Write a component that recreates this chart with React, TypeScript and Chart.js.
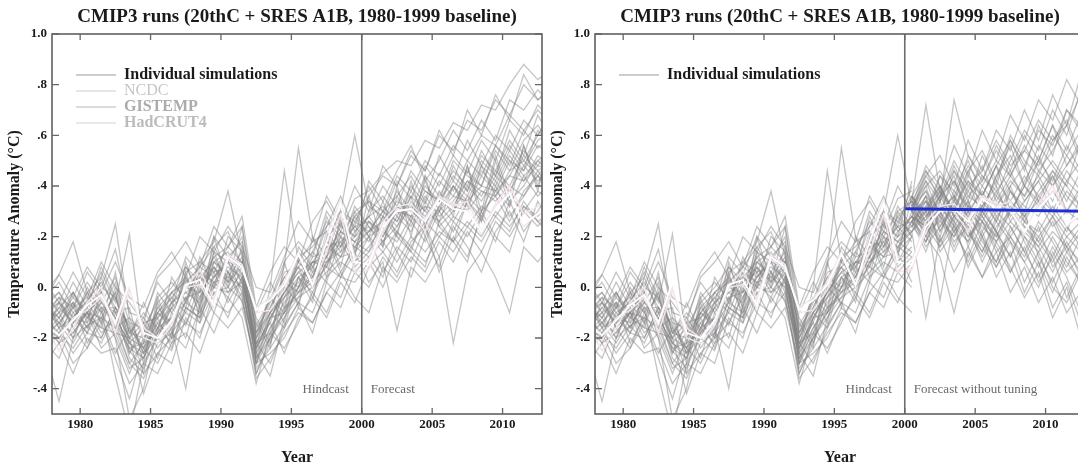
import React, { useEffect, useRef } from "react";
import { Chart, registerables } from "chart.js";
Chart.register(...registerables);

const FONT = '"Liberation Serif", "Times New Roman", serif';

// ---------- data ----------
const years = [
  1977, 1978, 1979, 1980, 1981, 1982, 1983, 1984, 1985, 1986, 1987, 1988, 1989,
  1990, 1991, 1992, 1993, 1994, 1995, 1996, 1997, 1998, 1999, 2000, 2001, 2002,
  2003, 2004, 2005, 2006, 2007, 2008, 2009, 2010, 2011, 2012, 2013,
];
const forecastYears = [2000, 2001, 2002, 2003, 2004, 2005, 2006, 2007, 2008, 2009, 2010, 2011, 2012, 2013];

// CMIP3 individual simulations (20thC + A1B), anomaly vs 1980-1999
const simA = [-0.08,-0.02,-0.12,-0.05,0.02, -0.08,-0.15,-0.26,-0.10,-0.04, 0.03,-0.05,0.10,0.14,0.05, -0.22,-0.18,0.00,0.08,0.02, 0.20,0.25,0.15,0.30,0.36, 0.28,0.40,0.33,0.45,0.38, 0.50,0.44,0.56,0.48,0.62, 0.55,0.60];
const simB = [-0.20,-0.18,-0.24,-0.15,-0.12, -0.16,-0.30,-0.36,-0.22,-0.18, -0.10,-0.14,-0.02,0.00,-0.05, -0.32,-0.24,-0.15,-0.06,-0.10, 0.04,0.10,0.06,0.12,0.18, 0.10,0.20,0.14,0.22,0.18, 0.26,0.20,0.30,0.24,0.32, 0.28,0.35];
const simC = [-0.05,0.05,-0.04,0.08,0.00, 0.15,-0.10,-0.12,0.02,-0.06, 0.12,0.05,0.20,0.12,0.18, -0.15,-0.05,0.10,0.18,0.12, 0.30,0.22,0.35,0.38,0.45, 0.50,0.48,0.58,0.55,0.65, 0.62,0.72,0.70,0.80,0.88, 0.82,0.86];
const simD = [-0.15,-0.22,-0.10,-0.18,-0.08, -0.35,-0.58,-0.30,-0.20,-0.25, -0.08,-0.12,0.02,-0.04,0.08, -0.28,-0.20,-0.10,0.04,-0.02, 0.10,0.16,0.24,0.18,0.28, 0.22,0.34,0.26,0.30,0.40, 0.32,0.44,0.38,0.50,0.42, 0.52,0.48];
const simE = [-0.25,-0.45,-0.20,-0.15,-0.22, -0.10,-0.25,-0.32,-0.18,-0.08, -0.15,0.02,0.08,0.00,0.10, -0.30,-0.12,-0.02,0.06,0.10, 0.08,0.22,0.18,0.26,0.20, 0.30,0.24,0.36,0.28,0.34, 0.42,0.36,0.46,0.40,0.52, 0.46,0.50];
const simF = [-0.02,0.05,0.18,-0.02,0.04, 0.25,-0.12,-0.18,-0.04,0.02, -0.05,0.08,0.04,0.12,0.02, -0.20,-0.10,-0.04,0.10,0.04, 0.16,0.12,0.26,0.22,0.30, 0.26,0.38,0.30,0.42,0.36, 0.46,0.40,0.54,0.46,0.58, 0.64,0.56];
const simG = [-0.10,-0.06,-0.14,0.00,-0.10, 0.02,-0.18,-0.10,-0.16,-0.02, 0.04,-0.08,0.14,0.10,0.20, -0.18,-0.06,0.08,0.55,0.20, 0.12,0.30,0.60,0.32,0.28, 0.42,0.35,0.48,0.40,0.52, 0.45,0.58,0.50,0.66,0.60, 0.72,0.66];
const simH = [-0.14,-0.08,-0.02,-0.12,0.00, -0.04,-0.16,-0.24,-0.08,-0.14, 0.06,0.10,0.18,0.38,0.12, -0.24,0.00,0.46,0.10,0.18, 0.22,0.14,0.28,0.34,0.26, 0.38,0.30,0.44,0.36,0.46, 0.40,0.52,0.46,0.58,0.50, 0.60,0.68];
const simI = [-0.18,-0.12,-0.20,-0.06,-0.14, -0.02,-0.26,-0.14,-0.24,-0.16, -0.40,-0.06,0.00,0.06,-0.04, -0.34,-0.22,-0.08,-0.04,0.08, 0.02,0.20,0.10,0.16,0.24, 0.14,0.26,0.18,0.30,0.22, 0.34,0.28,0.38,0.32,0.44, 0.36,0.42];
const simJ = [-0.06,-0.14,-0.08,-0.16,-0.04, -0.12,-0.22,-0.28,-0.12,-0.06, 0.00,0.04,0.10,0.04,0.12, -0.26,-0.35,-0.12,0.00,0.04, 0.18,0.12,0.22,0.28,0.20, 0.32,0.26,0.38,0.34,0.42, 0.36,0.48,0.42,0.54,0.46, 0.56,0.52];
const simK = [-0.12,-0.06,-0.16,-0.10,-0.02, -0.20,-0.52,-0.40,-0.16,-0.12, -0.04,-0.02,0.04,0.10,0.02, -0.30,-0.16,-0.06,0.00,0.10, 0.12,0.20,0.16,0.22,0.30, 0.24,0.32,0.28,0.36,0.30, 0.40,0.34,0.44,0.38,0.48, 0.42,0.46];
const simL = [-0.16,-0.20,-0.12,-0.14,-0.08, -0.14,-0.24,-0.22,-0.18,-0.12, -0.06,-0.10,0.02,0.04,0.00, -0.28,-0.18,-0.10,-0.02,0.02, 0.08,0.04,0.14,0.02,0.10, -0.17,0.08,0.02,0.12,-0.22, 0.06,0.14,0.04,-0.10,0.16, 0.10,0.18];
const simM = [-0.22,-0.16,-0.26,-0.18,-0.20, -0.08,-0.28,-0.34,-0.26,-0.20, -0.14,-0.18,-0.06,-0.10,-0.02, -0.36,-0.28,-0.18,-0.10,-0.14, -0.02,0.06,-0.04,-0.10,0.08, 0.02,0.12,0.06,0.18,0.10, 0.22,0.14,0.26,0.20,0.30, 0.24,0.32];
const simN = [-0.10,-0.04,-0.08,0.02,-0.06, 0.04,-0.14,-0.16,-0.06,0.00, 0.08,0.02,0.12,0.16,0.10, -0.16,-0.08,0.04,0.12,0.16, 0.24,0.30,0.26,0.36,0.44, 0.40,0.52,0.46,0.60,0.54, 0.66,0.62,0.74,0.68,0.80, 0.74,0.78];
const simO = [-0.14,-0.10,-0.06,-0.12,-0.06, -0.10,-0.20,-0.24,-0.14,-0.08, -0.02,0.02,0.06,0.08,0.04, -0.24,-0.12,-0.04,0.04,0.08, 0.16,0.18,0.24,0.26,0.22, 0.30,0.28,0.32,0.30,0.36, 0.34,0.40,0.38,0.44,0.42, 0.48,0.46];
const simP = [-0.08,-0.12,-0.04,-0.10,-0.12, -0.02,-0.18,-0.20,-0.10,-0.14, 0.04,-0.04,0.08,0.02,0.08, -0.22,-0.10,-0.02,0.06,0.00, 0.12,0.24,0.20,0.28,0.32, 0.26,0.36,0.30,0.26,0.40, 0.34,0.46,0.40,0.52,0.44, 0.50,0.54];
const simQ = [-0.18,-0.14,-0.18,-0.10,-0.04, -0.12,-0.26,-0.18,-0.10,-0.16, -0.06,0.06,0.02,0.10,0.08, -0.26,-0.16,-0.08,-0.02,0.10, 0.10,0.14,0.20,0.24,0.18, 0.28,0.22,0.34,0.26,0.32, 0.30,0.38,0.34,0.40,0.36, 0.44,0.40];
const simR = [-0.04,-0.16,-0.02,-0.14,0.04, -0.10,-0.08,-0.30,-0.04,-0.18, 0.10,-0.08,0.14,0.00,0.16, -0.20,-0.04,-0.14,0.12,0.00, 0.22,0.08,0.30,0.20,0.34, 0.20,0.42,0.24,0.38,0.28, 0.48,0.30,0.52,0.36,0.56, 0.40,0.58];
const simS = [-0.12,-0.18,-0.08,-0.04,-0.10, -0.04,-0.22,-0.26,-0.20,-0.06, -0.02,-0.06,0.10,0.06,0.00, -0.28,-0.12,-0.10,0.00,0.12, 0.14,0.22,0.18,0.22,0.26, 0.34,0.30,0.26,0.36,0.32, 0.42,0.38,0.36,0.46,0.50, 0.44,0.52];
const simT = [-0.16,-0.08,-0.14,-0.02,-0.08, -0.08,-0.20,-0.14,-0.12,-0.04, -0.10,0.04,0.00,0.12,0.10, -0.22,-0.14,0.02,-0.02,0.04, 0.18,0.16,0.28,0.20,0.24, 0.32,0.28,0.40,0.34,0.44, 0.38,0.50,0.44,0.56,0.48, 0.58,0.62];
const simU = [-0.06,-0.02,-0.10,-0.06,0.06, -0.06,0.21,-0.22,-0.08,-0.02, 0.02,0.08,0.16,0.06,0.14, -0.18,-0.10,0.06,0.08,0.14, 0.26,0.20,0.30,0.34,0.30, 0.44,0.38,0.50,0.44,0.56, 0.50,0.60,0.56,0.68,0.62, 0.70,0.64];
const simV = [-0.20,-0.14,-0.22,-0.12,-0.16, -0.18,-0.32,-0.28,-0.16,-0.22, -0.08,-0.12,0.00,-0.02,0.02, -0.34,-0.20,-0.12,-0.04,0.00, 0.06,0.12,0.14,0.20,0.14, 0.22,0.16,0.26,0.20,0.28, 0.24,0.32,0.28,0.36,0.30, 0.38,0.34];
const simW = [-0.30,-0.22,-0.34,-0.20,-0.26, -0.24,-0.38,-0.30,-0.34,-0.22, -0.18,-0.26,-0.10,-0.16,-0.08, -0.30,-0.26,-0.20,-0.08,-0.14, -0.02,-0.08,0.06,0.00,0.12, 0.04,0.16,0.10,0.20,0.14, 0.24,0.18,0.28,0.22,0.34, 0.26,0.30];
const simX = [0.02,-0.06,0.06,-0.04,0.10, 0.00,-0.06,-0.14,0.04,0.10, 0.18,0.08,0.24,0.16,0.28, -0.08,0.06,0.16,0.10,0.26, 0.34,0.24,0.40,0.30,0.48, 0.40,0.54,0.46,0.62,0.52, 0.70,0.60,0.76,0.66,0.84, 0.74,0.80];
const simY = [-0.10,-0.20,-0.06,-0.22,-0.12, -0.26,-0.16,-0.34,-0.06,-0.20, 0.06,-0.12,0.20,0.02,0.24, -0.14,-0.24,0.10,-0.08,0.20, 0.04,0.28,0.12,0.36,0.16, 0.40,0.20,0.44,0.24,0.30, 0.48,0.26,0.50,0.32,0.56, 0.38,0.60];
const simZ = [-0.16,-0.10,-0.20,-0.08,-0.18, -0.12,-0.22,-0.16,-0.28,-0.10, -0.20,0.00,-0.10,0.06,-0.06, -0.22,-0.30,-0.16,-0.06,-0.18, 0.02,-0.04,0.10,0.20,0.06, 0.16,0.10,0.24,0.06,0.20, 0.12,0.28,0.18,0.34,0.22, 0.30,0.40];
const simAA = [-0.22,-0.28,-0.14,-0.10,-0.24, -0.18,-0.20,-0.42,-0.26,-0.30, -0.12,-0.20,-0.02,-0.12,0.04, -0.24,-0.14,-0.26,-0.12,-0.04, -0.12,0.02,-0.06,0.08,0.14, 0.06,0.18,0.24,0.12,0.26, 0.20,0.30,0.36,0.26,0.38, 0.44,0.36];
const simBB = [-0.04,0.02,-0.08,0.06,-0.02, 0.10,-0.04,-0.08,0.06,0.14, 0.04,0.20,0.14,0.24,0.16, 0.00,-0.02,0.12,0.26,0.18, 0.36,0.26,0.20,0.42,0.34, 0.46,0.56,0.42,0.50,0.62, 0.54,0.66,0.58,0.74,0.70, 0.78,0.72];
const simCC = [-0.12,-0.04,-0.16,-0.24,-0.10, -0.20,-0.34,-0.20,-0.12,-0.24, -0.04,-0.14,0.06,-0.06,0.04, -0.26,-0.10,-0.16,0.04,-0.06, 0.20,0.06,0.16,0.12,0.04, 0.22,0.14,0.08,0.26,0.18, 0.10,0.30,0.20,0.14,0.32, 0.26,0.20];
const simDD = [-0.08,-0.16,-0.12,-0.02,-0.14, 0.06,-0.24,-0.28,-0.10,-0.02, -0.08,0.12,0.00,0.20,0.14, -0.18,-0.04,-0.10,0.14,0.06, 0.28,0.16,0.32,0.24,0.16, 0.36,0.26,0.42,0.30,0.48, 0.38,0.54,0.44,0.62,0.52, 0.68,0.58];
const simEE = [-0.26,-0.18,-0.30,-0.24,-0.14, -0.28,-0.44,-0.24,-0.30,-0.18, -0.24,-0.08,-0.18,-0.04,-0.12, -0.38,-0.18,-0.24,-0.14,-0.02, -0.10,0.04,0.02,0.10,0.00, 0.14,0.04,0.20,0.08,0.24, 0.16,0.06,0.22,0.30,0.18, 0.34,0.24];
const simFF = [-0.02,-0.10,0.02,-0.08,0.08, -0.04,-0.20,-0.06,-0.18,0.04, -0.06,0.10,0.06,0.16,0.24, -0.10,0.02,-0.08,0.16,0.08, 0.24,0.36,0.22,0.28,0.40, 0.32,0.46,0.38,0.34,0.50, 0.44,0.40,0.56,0.50,0.46, 0.62,0.56];
const simGG = [-0.14,-0.22,-0.18,-0.10,-0.20, -0.08,-0.14,-0.24,-0.16,-0.06, -0.14,-0.04,0.08,-0.02,0.06, -0.30,-0.20,0.00,-0.06,0.06, 0.12,0.04,0.18,0.14,0.22, 0.18,0.28,0.22,0.32,0.26, 0.36,0.30,0.42,0.34,0.40, 0.50,0.44];
const simHH = [-0.10,-0.14,-0.06,-0.16,-0.06, -0.14,-0.30,-0.22,-0.02,-0.10, 0.00,-0.02,0.12,0.02,0.10, -0.20,-0.08,0.04,0.00,0.14, 0.08,0.26,0.14,0.26,0.18, 0.24,0.36,0.20,0.32,0.40, 0.30,0.48,0.36,0.44,0.54, 0.48,0.56];
const simII = [-0.18,-0.06,-0.12,-0.18,-0.02, -0.16,-0.12,-0.26,-0.14,-0.20, 0.02,-0.10,0.04,0.10,-0.02, -0.24,-0.12,-0.02,0.08,-0.04, 0.10,0.18,0.08,0.14,0.28, 0.20,0.14,0.32,0.24,0.18, 0.34,0.26,0.40,0.28,0.36, 0.46,0.38];
const simJJ = [-0.06,-0.12,-0.02,-0.10,-0.16, 0.00,-0.18,-0.12,-0.20,-0.08, 0.08,-0.02,0.16,0.22,0.08, -0.12,-0.22,-0.04,0.02,0.10, 0.18,0.30,0.24,0.40,0.30, 0.36,0.44,0.34,0.52,0.42, 0.58,0.48,0.60,0.54,0.66, 0.60,0.70];

const simulations = [
  simA, simB, simC, simD, simE, simF, simG, simH, simI, simJ, simK, simL, simM, simN, simO, simP, simQ, simR,
  simS, simT, simU, simV, simW, simX, simY, simZ, simAA, simBB, simCC, simDD, simEE, simFF, simGG, simHH, simII, simJJ,
];

// "forecast without tuning" runs (right panel), 2000-2013
const fc01 = [0.30,0.42,0.28,0.46,0.34, 0.52,0.40,0.58,0.48,0.62, 0.56,0.70,0.64,0.72];
const fc02 = [0.26,0.14,0.30,0.18,0.24, 0.10,0.22,0.06,0.16,0.02, 0.12,-0.04,0.08,-0.02];
const fc03 = [0.34,0.72,0.38,0.56,0.44, 0.62,0.50,0.68,0.58,0.74, 0.66,0.82,0.72,0.80];
const fc04 = [0.22,0.30,-0.05,0.26,0.08, 0.20,0.04,0.14,-0.02,0.10, -0.08,0.02,-0.14,-0.06];
const fc05 = [0.32,0.24,0.40,0.30,0.44, 0.36,0.48,0.38,0.30,0.46, 0.40,0.52,0.44,0.56];
const fc06 = [0.28,0.36,0.22,0.32,0.20, 0.28,0.18,0.30,0.22,0.16, 0.26,0.14,0.22,0.12];
const fc07 = [0.36,0.26,0.44,0.34,0.52, 0.42,0.56,0.46,0.60,0.50, 0.64,0.54,0.68,0.60];
const fc08 = [0.24,0.18,0.28,0.14,0.26, 0.16,0.08,0.20,0.10,0.00, 0.14,0.04,-0.10,0.02];
const fc09 = [0.30,0.46,0.34,0.74,0.52, 0.44,0.36,0.50,0.62,0.54, 0.70,0.60,0.78,0.86];
const fc10 = [0.26,0.20,0.32,0.24,0.18, 0.30,0.22,0.12,0.24,0.16, 0.06,0.18,0.08,0.00];
const fc11 = [0.32,0.38,0.30,0.36,0.28, 0.40,0.32,0.42,0.36,0.44, 0.34,0.46,0.38,0.48];
const fc12 = [0.28,0.22,0.26,0.20,0.30, 0.24,0.18,0.26,0.20,0.14, 0.22,0.16,0.24,0.18];
const fc13 = [0.34,0.44,0.36,0.50,0.40, 0.46,0.58,0.48,0.54,0.66, 0.58,0.64,0.76,0.68];
const fc14 = [0.22,-0.12,0.20,0.06,0.16, 0.04,0.14,-0.02,0.08,-0.06, 0.04,-0.10,-0.02,-0.18];
const fc15 = [0.30,0.34,0.26,0.38,0.32, 0.26,0.36,0.30,0.40,0.34, 0.28,0.38,0.32,0.36];
const fc16 = [0.36,0.30,0.40,0.28,0.36, 0.32,0.42,0.34,0.28,0.38, 0.46,0.36,0.30,0.42];
const fc17 = [0.26,0.32,0.18,0.28,0.22, 0.14,0.26,0.18,0.10,0.20, 0.12,0.24,0.16,0.08];
const fc18 = [0.32,0.48,0.40,0.30,0.46, 0.54,0.42,0.60,0.50,0.44, 0.58,0.66,0.52,0.62];
const fc19 = [0.28,0.16,0.24,0.34,0.22, 0.12,0.24,0.30,0.18,0.08, 0.20,0.10,0.02,0.12];
const fc20 = [0.30,0.26,0.36,0.42,0.30, 0.38,0.28,0.34,0.44,0.36, 0.30,0.42,0.50,0.40];
const fc21 = [0.24,0.34,0.28,0.20,0.32, 0.26,0.20,0.32,0.26,0.22, 0.32,0.24,0.18,0.28];
const fc22 = [0.34,0.22,0.36,0.46,0.38, 0.30,0.44,0.52,0.40,0.56, 0.48,0.40,0.58,0.50];
const fc23 = [0.26,0.36,0.14,0.22,0.30, 0.18,0.10,0.22,0.30,0.12, 0.02,0.14,0.06,-0.04];
const fc24 = [0.30,0.20,0.32,0.26,0.40, 0.34,0.26,0.38,0.32,0.28, 0.38,0.30,0.26,0.34];
const fc25 = [0.32,0.40,0.46,0.36,0.48, 0.40,0.50,0.44,0.54,0.48, 0.60,0.52,0.62,0.56];
const fc26 = [0.28,0.24,0.16,0.28,0.20, 0.26,0.14,0.20,0.28,0.18, 0.10,0.20,0.14,0.06];
const fc27 = [0.36,0.28,0.34,0.44,0.26, 0.36,0.48,0.30,0.40,0.32, 0.44,0.34,0.46,0.38];
const fc28 = [0.24,0.30,0.38,0.24,0.34, 0.20,0.30,0.24,0.14,0.26, 0.18,0.08,0.20,0.14];
const fc29 = [0.30,0.38,0.24,0.32,0.42, 0.28,0.38,0.46,0.34,0.42, 0.50,0.42,0.36,0.48];
const fc30 = [0.26,0.18,0.30,0.36,0.16, 0.30,0.22,0.12,0.26,0.20, 0.28,0.16,0.10,0.22];
const fc31 = [0.28,0.40,0.22,0.34,0.46, 0.30,0.44,0.56,0.40,0.50, 0.64,0.48,0.58,0.70];
const fc32 = [0.32,0.20,0.12,-0.10,0.14, 0.04,0.18,0.08,-0.04,0.06, -0.12,0.00,-0.20,-0.08];
const fc33 = [0.22,0.32,0.40,0.28,0.38, 0.48,0.34,0.44,0.56,0.46, 0.54,0.64,0.50,0.60];
const fc34 = [0.34,0.26,0.18,0.30,0.24, 0.14,0.28,0.20,0.12,0.24, 0.08,0.16,0.04,0.14];
const fc35 = [0.30,0.44,0.52,0.40,0.58, 0.46,0.62,0.54,0.70,0.58, 0.76,0.64,0.84,0.74];
const fc36 = [0.26,0.30,0.20,0.36,0.26, 0.32,0.22,0.38,0.28,0.34, 0.24,0.30,0.40,0.28];
const fc37 = [0.36,0.24,0.30,0.16,0.28, 0.20,0.10,0.24,0.14,0.04, 0.16,0.06,0.12,-0.02];
const fc38 = [0.24,0.36,0.30,0.42,0.32, 0.44,0.38,0.28,0.42,0.52, 0.40,0.48,0.56,0.46];
const fc39 = [0.28,0.18,0.34,0.22,0.12, 0.26,0.16,0.06,0.20,0.10, -0.02,0.12,0.02,0.10];
const fc40 = [0.32,0.42,0.34,0.48,0.36, 0.42,0.54,0.44,0.36,0.50, 0.42,0.56,0.46,0.54];
const fc41 = [0.30,0.22,0.38,0.28,0.34, 0.22,0.32,0.40,0.26,0.36, 0.44,0.30,0.38,0.26];
const fc42 = [0.26,0.34,0.16,0.24,0.10, 0.22,0.08,0.18,0.02,0.14, 0.00,-0.06,0.06,-0.12];
const fc43 = [0.34,0.30,0.44,0.38,0.50, 0.36,0.48,0.58,0.46,0.64, 0.52,0.70,0.62,0.78];
const fc44 = [0.28,0.24,0.30,0.22,0.32, 0.28,0.20,0.30,0.24,0.18, 0.28,0.20,0.26,0.22];
const fc45 = [0.22,0.28,0.36,0.26,0.18, 0.32,0.40,0.26,0.34,0.42, 0.30,0.22,0.36,0.30];
const fc46 = [0.36,0.46,0.38,0.30,0.42, 0.36,0.26,0.40,0.48,0.34, 0.46,0.40,0.32,0.44];

const forecastRuns = [
  fc01, fc02, fc03, fc04, fc05, fc06, fc07, fc08, fc09, fc10, fc11, fc12, fc13, fc14, fc15, fc16,
  fc17, fc18, fc19, fc20, fc21, fc22, fc23, fc24, fc25, fc26, fc27, fc28, fc29, fc30, fc31, fc32,
  fc33, fc34, fc35, fc36, fc37, fc38, fc39, fc40, fc41, fc42, fc43, fc44, fc45, fc46,
];

// observations (annual, vs 1980-1999)
const ncdc = [-0.14,-0.19,-0.13,-0.07,-0.03, -0.14,0.02,-0.18,-0.20,-0.13, 0.01,0.03,-0.07,0.12,0.08, -0.09,-0.05,0.01,0.13,0.01, 0.18,0.33,0.10,0.09,0.24, 0.30,0.31,0.26,0.35,0.31, 0.30,0.22,0.31,0.37,0.25, 0.29,0.32];
const gistemp = [-0.15,-0.25,-0.16,-0.06,0.00, -0.18,-0.01,-0.16,-0.20,-0.14, 0.00,0.07,-0.05,0.13,0.09, -0.10,-0.09,-0.01,0.13,0.01, 0.14,0.29,0.06,0.07,0.22, 0.31,0.30,0.22,0.36,0.32, 0.34,0.22,0.33,0.40,0.29, 0.32,0.36];
const hadcrut4 = [-0.16,-0.21,-0.12,-0.09,-0.04, -0.15,0.00,-0.20,-0.22,-0.15, 0.00,0.01,-0.08,0.11,0.07, -0.08,-0.04,0.02,0.14,0.00, 0.21,0.34,0.12,0.11,0.26, 0.32,0.33,0.27,0.36,0.33, 0.31,0.21,0.32,0.38,0.24, 0.29,0.31];

// blue reference line (right panel)
const blueYears = [2000, 2012.8];
const blueValues = [0.31, 0.30];

const xTickValues = [1980, 1985, 1990, 1995, 2000, 2005, 2010];
const xTickLabels = ["1980", "1985", "1990", "1995", "2000", "2005", "2010"];
const yTickValues = [-0.4, -0.2, 0, 0.2, 0.4, 0.6, 0.8, 1.0];
const yTickLabels = ["-.4", "-.2", "0.", ".2", ".4", ".6", ".8", "1.0"];

const X_MIN = 1978;
const X_MAX = 2012.8;
const Y_MIN = -0.5;
const Y_MAX = 1.0;
const SPLIT_YEAR = 2000;
const MID_YEAR = 0.5;

const TITLE = "CMIP3 runs (20thC + SRES A1B, 1980-1999 baseline)";

// ---------- chart ----------
const CANVAS_W = 545;
const CANVAS_H = 463;

type LegendItem = { label: string; line: string; color: string; bold: boolean };
type PanelOpts = {
  legend: LegendItem[];
  forecastLabel: string;
  hindcastOnly: boolean;
  showForecastRuns: boolean;
  showBlue: boolean;
};

const toPoints = (xs: number[], ys: number[], offset: number) =>
  ys.map((v, i) => ({ x: xs[i] + offset, y: v }));

function decorPlugin(opts: PanelOpts) {
  return {
    id: "decor",
    afterDatasetsDraw(chart: any) {
      const { ctx, chartArea: a, scales } = chart;
      const xs = scales.x;
      const ys = scales.y;
      ctx.save();
      const sx = xs.getPixelForValue(SPLIT_YEAR);
      ctx.strokeStyle = "#6e6e6e";
      ctx.lineWidth = 1.6;
      ctx.beginPath();
      ctx.moveTo(sx, a.top);
      ctx.lineTo(sx, a.bottom);
      ctx.stroke();

      ctx.strokeStyle = "#606060";
      ctx.lineWidth = 1.6;
      ctx.strokeRect(a.left, a.top, a.right - a.left, a.bottom - a.top);

      ctx.lineWidth = 1.3;
      ctx.strokeStyle = "#666";
      xTickValues.forEach((t) => {
        const px = xs.getPixelForValue(t);
        ctx.beginPath();
        ctx.moveTo(px, a.bottom);
        ctx.lineTo(px, a.bottom - 6);
        ctx.moveTo(px, a.top);
        ctx.lineTo(px, a.top + 6);
        ctx.stroke();
      });
      yTickValues.forEach((t) => {
        const py = ys.getPixelForValue(t);
        ctx.beginPath();
        ctx.moveTo(a.left, py);
        ctx.lineTo(a.left + 7, py);
        ctx.moveTo(a.right, py);
        ctx.lineTo(a.right - 7, py);
        ctx.stroke();
      });
      ctx.restore();
    },
    afterDraw(chart: any) {
      const { ctx, chartArea: a, scales } = chart;
      const xs = scales.x;
      const cx = (a.left + a.right) / 2;
      const cy = (a.top + a.bottom) / 2;
      ctx.save();
      ctx.fillStyle = "#1a1a1a";
      ctx.textBaseline = "middle";
      ctx.textAlign = "center";
      ctx.font = `bold 19px ${FONT}`;
      ctx.fillText(TITLE, cx, 17);
      ctx.font = `bold 16px ${FONT}`;
      ctx.fillText("Year", cx, 458);
      ctx.save();
      ctx.translate(15, cy);
      ctx.rotate(-Math.PI / 2);
      ctx.fillText("Temperature Anomaly (°C)", 0, 0);
      ctx.restore();

      // legend
      opts.legend.forEach((it, i) => {
        const y = 75 + i * 16;
        ctx.strokeStyle = it.line;
        ctx.lineWidth = 1.3;
        ctx.beginPath();
        ctx.moveTo(a.left + 24, y);
        ctx.lineTo(a.left + 64, y);
        ctx.stroke();
        ctx.fillStyle = it.color;
        ctx.textAlign = "left";
        ctx.font = `${it.bold ? "bold " : ""}16px ${FONT}`;
        ctx.fillText(it.label, a.left + 72, y);
      });

      // annotations
      const sx = xs.getPixelForValue(SPLIT_YEAR);
      ctx.fillStyle = "#6a6a6a";
      ctx.font = `13px ${FONT}`;
      ctx.textAlign = "right";
      ctx.fillText("Hindcast", sx - 13, 390);
      ctx.textAlign = "left";
      ctx.fillText(opts.forecastLabel, sx + 9, 390);
      ctx.restore();
    },
  };
}

function buildConfig(opts: PanelOpts): any {
  // Chart.js paints the first dataset on top, so build bottom-to-top and reverse.
  const datasets: any[] = [];
  const simGray = "rgba(128,128,128,0.46)";
  const hindYears = years.filter((y) => y <= SPLIT_YEAR);
  simulations.forEach((s, i) => {
    const ys = opts.hindcastOnly ? s.slice(0, hindYears.length) : s;
    datasets.push({
      label: `sim${i}`,
      data: toPoints(years, ys, MID_YEAR),
      borderColor: simGray,
      borderWidth: 1.3,
    });
  });
  if (opts.showForecastRuns) {
    forecastRuns.forEach((s, i) => {
      datasets.push({
        label: `fc${i}`,
        data: toPoints(forecastYears, s, MID_YEAR),
        borderColor: simGray,
        borderWidth: 1.3,
      });
    });
  }
  datasets.push({ label: "HadCRUT4", data: toPoints(years, hadcrut4, MID_YEAR), borderColor: "#efe4f1", borderWidth: 1.4 });
  datasets.push({ label: "GISTEMP", data: toPoints(years, gistemp, MID_YEAR), borderColor: "#f6e4ec", borderWidth: 1.5 });
  datasets.push({ label: "NCDC", data: toPoints(years, ncdc, MID_YEAR), borderColor: "#ffffff", borderWidth: 1.8 });
  if (opts.showBlue) {
    datasets.push({ label: "blue", data: toPoints(blueYears, blueValues, 0), borderColor: "#1c2fd2", borderWidth: 3 });
  }
  datasets.reverse();

  return {
    type: "line",
    data: { datasets },
    options: {
      animation: false,
      responsive: false,
      parsing: false,
      normalized: true,
      elements: { point: { radius: 0 }, line: { tension: 0 } },
      layout: { padding: { top: 34, right: 3, left: 0, bottom: 0 } },
      plugins: { legend: { display: false }, title: { display: false }, tooltip: { enabled: false } },
      scales: {
        x: {
          type: "linear",
          min: X_MIN,
          max: X_MAX,
          grid: { display: false, drawTicks: false },
          border: { display: false },
          afterBuildTicks: (s: any) => {
            s.ticks = xTickValues.map((v) => ({ value: v }));
          },
          afterFit: (s: any) => {
            s.height = 49;
          },
          ticks: {
            autoSkip: false,
            maxRotation: 0,
            padding: 3,
            color: "#1a1a1a",
            font: { family: FONT, size: 13, weight: "bold" },
            callback: (_v: any, i: number) => xTickLabels[i],
          },
        },
        y: {
          type: "linear",
          min: Y_MIN,
          max: Y_MAX,
          grid: { display: false, drawTicks: false },
          border: { display: false },
          afterBuildTicks: (s: any) => {
            s.ticks = yTickValues.map((v) => ({ value: v }));
          },
          afterFit: (s: any) => {
            s.width = 52;
          },
          ticks: {
            autoSkip: false,
            padding: 5,
            color: "#1a1a1a",
            font: { family: FONT, size: 13, weight: "bold" },
            callback: (_v: any, i: number) => yTickLabels[i],
          },
        },
      },
    },
    plugins: [decorPlugin(opts)],
  };
}

const leftOpts: PanelOpts = {
  legend: [
    { label: "Individual simulations", line: "#bdbdbd", color: "#1a1a1a", bold: true },
    { label: "NCDC", line: "#dedede", color: "#c6c6c6", bold: false },
    { label: "GISTEMP", line: "#cfcfcf", color: "#acacac", bold: true },
    { label: "HadCRUT4", line: "#e6e0e6", color: "#bcbcbc", bold: true },
  ],
  forecastLabel: "Forecast",
  hindcastOnly: false,
  showForecastRuns: false,
  showBlue: false,
};

const rightOpts: PanelOpts = {
  legend: [{ label: "Individual simulations", line: "#bdbdbd", color: "#1a1a1a", bold: true }],
  forecastLabel: "Forecast without tuning",
  hindcastOnly: true,
  showForecastRuns: true,
  showBlue: true,
};

function Panel({ opts, left }: { opts: PanelOpts; left: number }) {
  const ref = useRef<HTMLCanvasElement | null>(null);
  useEffect(() => {
    if (!ref.current) return;
    const chart = new Chart(ref.current, buildConfig(opts));
    return () => chart.destroy();
  }, [opts]);
  return (
    <canvas
      ref={ref}
      width={CANVAS_W}
      height={CANVAS_H}
      style={{ position: "absolute", left, top: 0, width: CANVAS_W, height: CANVAS_H }}
    />
  );
}

export default function App() {
  return (
    <div
      style={{
        position: "absolute",
        left: 0,
        top: 0,
        width: 1078,
        height: 463,
        overflow: "hidden",
        background: "#ffffff",
      }}
    >
      <Panel opts={leftOpts} left={0} />
      <Panel opts={rightOpts} left={543} />
    </div>
  );
}
